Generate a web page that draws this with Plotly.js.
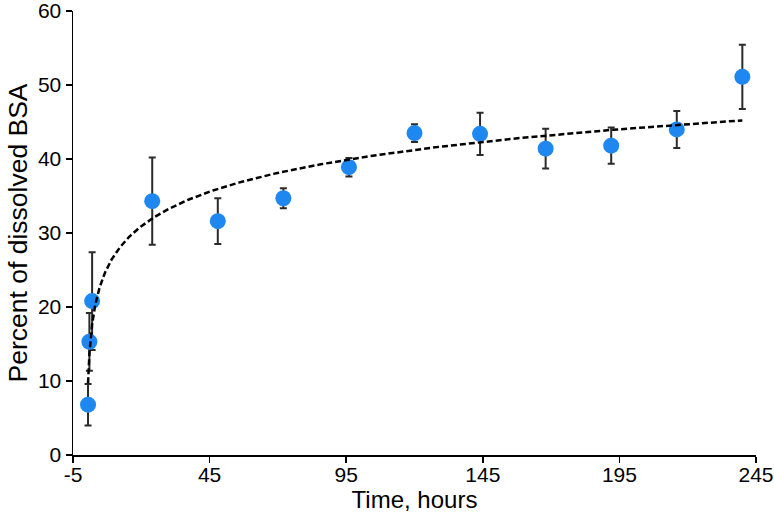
<!DOCTYPE html>
<html>
<head>
<meta charset="utf-8">
<script src="https://cdn.plot.ly/plotly-3.0.1.min.js"></script>
<style>
  html, body { margin: 0; padding: 0; background: #fff; }
  #chart { width: 774px; height: 519px; }
</style>
</head>
<body>
<div id="chart"></div>
<script>
// Data
const timeHours = [0.5, 1, 2, 24, 48, 72, 96, 120, 144, 168, 192, 216, 240];
const percentDissolved = [6.8, 15.3, 20.8, 34.3, 31.6, 34.7, 38.9, 43.5, 43.4, 41.4, 41.8, 44.0, 51.1];
const errorBars = [2.8, 3.9, 6.6, 5.9, 3.1, 1.35, 1.25, 1.2, 2.85, 2.7, 2.45, 2.5, 4.35];
const xTickValues = [-5, 45, 95, 145, 195, 245];
const xTickLabels = ['-5', '45', '95', '145', '195', '245'];
const yTickValues = [0, 10, 20, 30, 40, 50, 60];

// Logarithmic trendline (least squares fit of y = a*ln(x) + b to the data)
const lx = timeHours.map(Math.log);
const n = lx.length;
const mx = lx.reduce((s, v) => s + v, 0) / n;
const my = percentDissolved.reduce((s, v) => s + v, 0) / n;
let sxy = 0, sxx = 0;
for (let i = 0; i < n; i++) { sxy += (lx[i] - mx) * (percentDissolved[i] - my); sxx += (lx[i] - mx) ** 2; }
const a = sxy / sxx, b = my - a * mx;
const trendX = [], trendY = [];
const x0 = timeHours[0], x1 = timeHours[n - 1];
for (let k = 0; k <= 300; k++) {
  const x = Math.exp(Math.log(x0) + (Math.log(x1) - Math.log(x0)) * k / 300);
  trendX.push(x); trendY.push(a * Math.log(x) + b);
}

const fam = 'Liberation Sans, Arial, sans-serif';

const traces = [
  {
    x: timeHours, y: percentDissolved, type: 'scatter', mode: 'markers',
    marker: { color: '#1f87f0', size: 16 },
    error_y: { type: 'data', array: errorBars, visible: true, color: '#2b2b2b', thickness: 2, width: 3.5 },
    showlegend: false, hoverinfo: 'x+y'
  },
  {
    x: trendX, y: trendY, type: 'scatter', mode: 'lines',
    line: { color: '#000', width: 2.5, dash: '6px,3px' },
    showlegend: false, hoverinfo: 'skip'
  }
];

const layout = {
  width: 774, height: 519,
  margin: { l: 73, r: 18, t: 11, b: 64 },
  paper_bgcolor: '#fff', plot_bgcolor: '#fff',
  font: { family: fam, size: 21, color: '#000' },
  xaxis: {
    range: [-5, 245], tickmode: 'array', tickvals: xTickValues, ticktext: xTickLabels,
    ticks: 'outside', ticklen: 6, tickwidth: 1.5, tickcolor: '#000',
    ticklabelstandoff: -6, ticklabeloverflow: 'allow',
    showline: true, linecolor: '#000', linewidth: 1.5,
    showgrid: false, zeroline: false,
    tickfont: { family: fam, size: 21, color: '#000' },
    title: { text: 'Time, hours', font: { family: fam, size: 24, color: '#000' }, standoff: 6 }
  },
  yaxis: {
    range: [0, 60], tickmode: 'array', tickvals: yTickValues,
    ticks: 'outside', ticklen: 6, tickwidth: 1.5, tickcolor: '#000',
    ticklabeloverflow: 'allow',
    showline: true, linecolor: '#000', linewidth: 1.5,
    showgrid: false, zeroline: false,
    tickfont: { family: fam, size: 21, color: '#000' },
    title: { text: 'Percent of dissolved BSA', font: { family: fam, size: 26.5, color: '#000' }, standoff: 2 }
  }
};

Plotly.newPlot('chart', traces, layout, { staticPlot: true, displayModeBar: false });
</script>
</body>
</html>
